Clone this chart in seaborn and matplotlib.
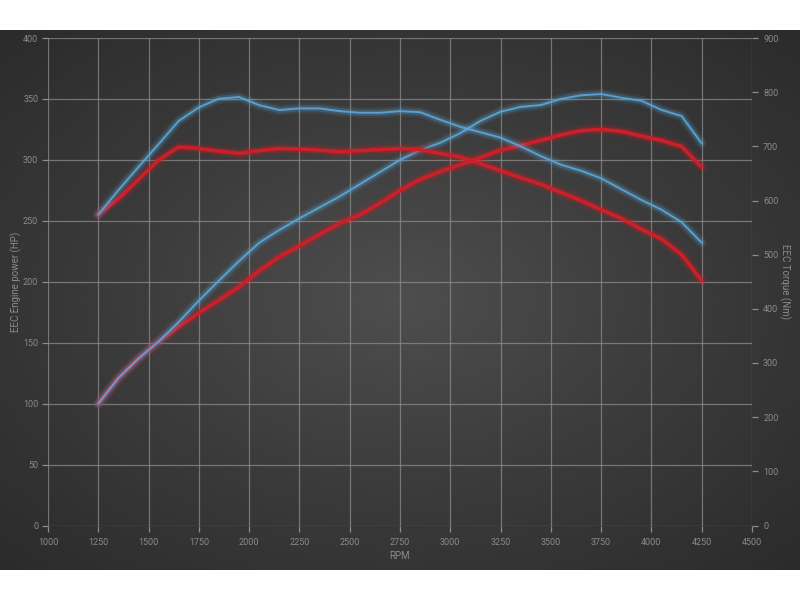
import numpy as np
import pandas as pd
import seaborn as sns
import matplotlib.pyplot as plt
import matplotlib.patheffects as pe
from matplotlib.colors import LinearSegmentedColormap

# dyno readings
rpm = [1250, 1350, 1450, 1550, 1650, 1750, 1850, 1950, 2050, 2150, 2250,
       2350, 2450, 2550, 2650, 2750, 2850, 2950, 3050, 3150, 3250, 3350,
       3450, 3550, 3650, 3750, 3850, 3950, 4050, 4150, 4250]

# power (HP), left axis
power_blue = [100, 121, 137, 151, 167, 184.5, 201, 217, 232, 242.5, 252,
              261, 270, 280, 290, 300, 308, 314, 322, 332, 339.5, 343.5,
              345, 350, 353, 354, 351, 348.5, 341, 336, 313.5]
power_red = [100, 121, 137, 151, 163, 174.5, 185, 196, 209, 220.5, 229.5,
             239, 248, 255, 264.5, 275, 284, 290.5, 296, 302, 308, 312,
             316, 320.5, 324, 325, 323.5, 319.5, 316, 311, 294]

# torque (Nm), right axis
torque_blue = [574, 619, 662, 704, 747, 772, 788, 791, 776, 767, 770,
               770, 765, 762, 762, 765, 763, 749, 736, 726, 716, 700,
               682, 666, 655, 641, 621, 601, 583, 560, 522]
torque_red = [574, 603, 639, 675, 699, 696, 691, 687, 692, 696, 695,
              693, 690, 692, 694, 696, 694, 687, 680, 668, 655, 642,
              630, 615, 600, 583, 567, 547, 529, 500, 452]

x_ticks = list(range(1000, 4501, 250))
hp_ticks = list(range(0, 401, 50))
nm_ticks = list(range(0, 901, 100))

df = pd.DataFrame({"rpm": rpm,
                   "power_blue": power_blue, "power_red": power_red,
                   "torque_blue": torque_blue, "torque_red": torque_red})

sns.set_theme(style="dark")
plt.rcParams['font.family'] = ['Roboto', 'DejaVu Sans']

text_col = "#8a8a8a"
grid_col = "#8c8c8c"
blue = "#5ba8da"
red = "#cc1f28"

fig = plt.figure(figsize=(8, 6), dpi=100, facecolor="white")

# dark radial background band
bg = fig.add_axes([0, 30 / 600, 1, 540 / 600])
yy, xx = np.mgrid[-1:1:270j, -1:1:400j]
r = np.sqrt(xx ** 2 + yy ** 2) / np.sqrt(2)
cmap = LinearSegmentedColormap.from_list("bg", ["#4e4e4e", "#3b3b3b", "#2b2b2b"])
bg.imshow(r, cmap=cmap, aspect="auto", extent=(0, 1, 0, 1), vmin=0, vmax=1)
bg.axis("off")

ax = fig.add_axes([48 / 800, 74.5 / 600, 704 / 800, 487.5 / 600])
ax.set_facecolor("none")
ax2 = ax.twinx()

def glow(width, color):
    return [pe.Stroke(linewidth=width + 6, foreground=color, alpha=0.10),
            pe.Stroke(linewidth=width + 3, foreground=color, alpha=0.22),
            pe.Normal()]

line_kw = dict(solid_joinstyle="round", solid_capstyle="round")
sns.lineplot(data=df, x="rpm", y="power_red", ax=ax, color=red, linewidth=2.6,
             path_effects=glow(2.6, red), **line_kw)
sns.lineplot(data=df, x="rpm", y="power_blue", ax=ax, color=blue, linewidth=1.4,
             path_effects=glow(1.4, blue), alpha=0.9, **line_kw)
sns.lineplot(data=df, x="rpm", y="torque_red", ax=ax2, color=red, linewidth=2.6,
             path_effects=glow(2.6, red), **line_kw)
sns.lineplot(data=df, x="rpm", y="torque_blue", ax=ax2, color=blue, linewidth=1.4,
             path_effects=glow(1.4, blue), alpha=0.9, **line_kw)

ax.set_xlim(1000, 4500)
ax.set_ylim(0, 400)
ax2.set_ylim(0, 900)
ax.set_xticks(x_ticks)
ax.set_yticks(hp_ticks)
ax2.set_yticks(nm_ticks)

ax.grid(True, color=grid_col, linewidth=0.9, alpha=0.75)
ax2.grid(False)
for a in (ax, ax2):
    for s in a.spines.values():
        s.set_visible(False)

ax.tick_params(axis="both", colors=grid_col, labelcolor=text_col, labelsize=6.5,
               length=4, width=0.9, pad=3, direction="out")
ax.tick_params(axis="x", bottom=True, pad=5)
ax.tick_params(axis="y", left=True)
ax2.tick_params(axis="y", right=True, colors=grid_col, labelcolor=text_col,
                labelsize=6.5, length=4, width=0.9, pad=4)

ax.set_xlabel("RPM", color=text_col, fontsize=7, labelpad=3)
ax.set_ylabel("EEC Engine power (HP)", color=text_col, fontsize=7, labelpad=1)
ax2.set_ylabel("EEC Torque (Nm)", color=text_col, fontsize=7, rotation=270,
               labelpad=9)

fig.savefig("out.png", dpi=100, facecolor="white")
